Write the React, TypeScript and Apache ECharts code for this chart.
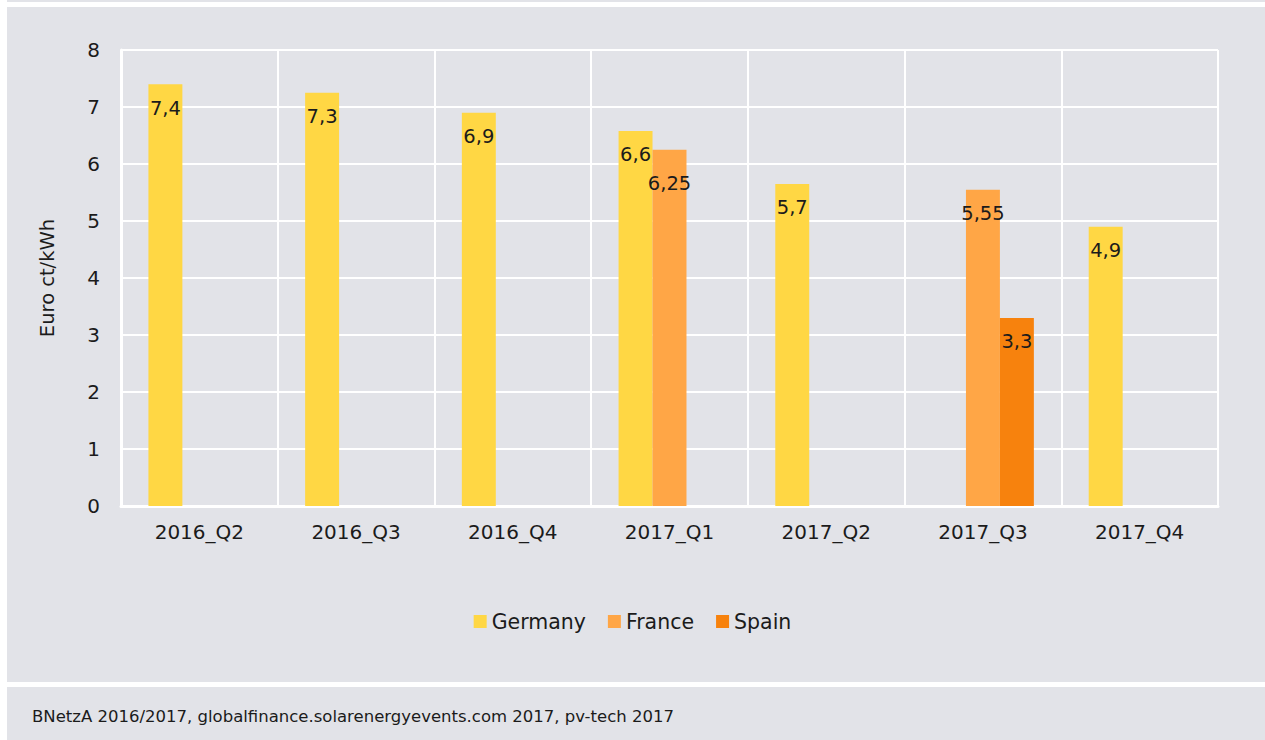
import React, { useEffect, useRef } from "react";
import * as echarts from "echarts";

const categories = ["2016_Q2", "2016_Q3", "2016_Q4", "2017_Q1", "2017_Q2", "2017_Q3", "2017_Q4"];
const germany = [7.4, 7.25, 6.9, 6.58, 5.65, null, 4.9];
const germanyLabels = ["7,4", "7,3", "6,9", "6,6", "5,7", "", "4,9"];
const france = [null, null, null, 6.25, null, 5.55, null];
const franceLabels = ["", "", "", "6,25", "", "5,55", ""];
const spain = [null, null, null, null, null, 3.3, null];
const spainLabels = ["", "", "", "", "", "3,3", ""];
const yTicks = [0, 1, 2, 3, 4, 5, 6, 7, 8];
const source = "BNetzA 2016/2017, globalfinance.solarenergyevents.com 2017, pv-tech 2017";

const FONT = "DejaVu Sans";
const TEXT = "#1b1b1b";
const BG = "#e2e3e8";

function makeSeries(name: string, values: (number | null)[], labels: string[], color: string, extraOffset: number[]) {
  return {
    name,
    type: "bar",
    barGap: "0%",
    barCategoryGap: "35%",
    itemStyle: { color },
    label: {
      show: true,
      position: "insideTop",
      distance: 14,
      color: TEXT,
      fontFamily: FONT,
      fontSize: 19.5,
      formatter: (p: any) => labels[p.dataIndex],
    },
    data: values.map((v, i) =>
      v == null ? null : extraOffset[i] ? { value: v, label: { offset: [0, extraOffset[i]] } } : v
    ),
  };
}

export default function App() {
  const ref = useRef<HTMLDivElement>(null);
  useEffect(() => {
    document.body.style.margin = "0";
    const chart = echarts.init(ref.current!, null, { renderer: "svg" });
    chart.setOption({
      animation: false,
      backgroundColor: "#ffffff",
      textStyle: { fontFamily: FONT },
      graphic: [
        { type: "rect", z: -10, shape: { x: 7, y: 0, width: 1258, height: 2 }, style: { fill: BG } },
        { type: "rect", z: -10, shape: { x: 7, y: 7, width: 1258, height: 675 }, style: { fill: BG } },
        { type: "rect", z: -10, shape: { x: 7, y: 687, width: 1258, height: 53 }, style: { fill: BG } },
        {
          type: "text",
          left: 32,
          top: 708,
          style: { text: source, fill: TEXT, font: `16.5px "${FONT}"` },
        },
      ],
      grid: { left: 121, right: 47, top: 50, bottom: 234, containLabel: false },
      legend: {
        bottom: 103,
        left: "center",
        itemWidth: 13,
        itemHeight: 13,
        itemGap: 22,
        icon: "rect",
        textStyle: { color: TEXT, fontFamily: FONT, fontSize: 20.5 },
        data: ["Germany", "France", "Spain"],
      },
      xAxis: {
        type: "category",
        data: categories,
        axisLine: { show: true, lineStyle: { color: "#ffffff", width: 3 } },
        axisTick: { show: false },
        splitLine: { show: true, lineStyle: { color: "#ffffff", width: 2 } },
        axisLabel: { color: TEXT, fontFamily: FONT, fontSize: 20, margin: 16 },
      },
      yAxis: {
        type: "value",
        min: yTicks[0],
        max: yTicks[yTicks.length - 1],
        interval: 1,
        name: "Euro ct/kWh",
        nameLocation: "middle",
        nameGap: 64,
        nameTextStyle: { color: TEXT, fontFamily: FONT, fontSize: 19.5 },
        axisLine: { show: true, lineStyle: { color: "#ffffff", width: 3 } },
        axisTick: { show: false },
        splitLine: { show: true, lineStyle: { color: "#ffffff", width: 2 } },
        axisLabel: { color: TEXT, fontFamily: FONT, fontSize: 20, margin: 21 },
      },
      series: [
        makeSeries("Germany", germany, germanyLabels, "#ffd744", [0, 0, 0, 0, 0, 0, 0]),
        makeSeries("France", france, franceLabels, "#ffa646", [0, 0, 0, 10, 0, 0, 0]),
        makeSeries("Spain", spain, spainLabels, "#f7820d", [0, 0, 0, 0, 0, 0, 0]),
      ],
    });
    return () => chart.dispose();
  }, []);
  return <div ref={ref} style={{ width: 1265, height: 740 }} />;
}
